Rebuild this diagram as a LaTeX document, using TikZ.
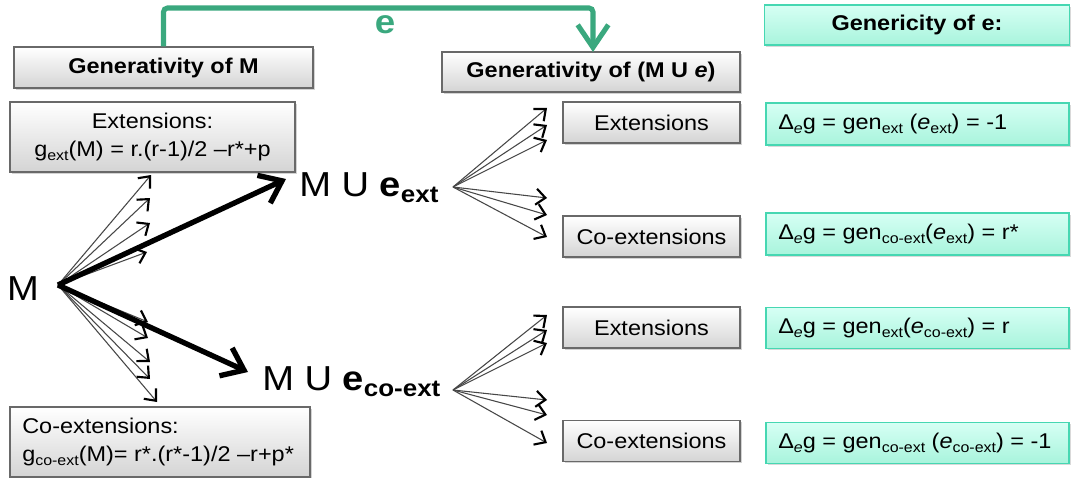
\documentclass[tikz,border=0pt]{standalone}
\usepackage{fontspec}
\setmainfont{Liberation Sans}[FakeStretch=1.1]
\usetikzlibrary{arrows.meta,shadows}
\definecolor{egreen}{RGB}{58,168,126}
\definecolor{boxgray}{RGB}{105,105,105}
\definecolor{graybot}{RGB}{212,212,212}
\definecolor{tealline}{RGB}{70,215,178}
\definecolor{tealtop}{RGB}{214,255,244}
\definecolor{tealbot}{RGB}{168,244,220}
\newcommand{\sub}[1]{\raisebox{-0.2em}{\scalebox{0.68}{#1}}}
\begin{document}
\begin{tikzpicture}[x=0.75pt,y=-0.75pt,
  bsize/.style 2 args={minimum width=#1*0.75pt, minimum height=#2*0.75pt},
  txt/.style={font=\fontsize{16}{21}\selectfont, inner sep=0pt},
  graybox/.style={draw=boxgray, line width=0.9pt, top color=white, bottom color=graybot,
    drop shadow={shadow xshift=1.3pt, shadow yshift=-1.3pt, opacity=0.35},
    inner sep=0pt, font=\fontsize{16}{21}\selectfont},
  tealbox/.style={draw=tealline, line width=1.1pt, top color=tealtop, bottom color=tealbot,
    drop shadow={shadow xshift=1.3pt, shadow yshift=-1.3pt, opacity=0.3},
    inner sep=0pt, font=\fontsize{16}{21}\selectfont},
  thinarr/.style={draw=black!72, line width=0.8pt,
    -{Straight Barb[length=7pt,width=12pt,line width=1.6pt,color=black]}},
  thickarr/.style={draw=black, line width=4pt,
    -{Straight Barb[length=15pt,width=23pt]}},
  greenarr/.style={draw=egreen, line width=3.8pt, rounded corners=3pt,
    -{Straight Barb[length=17pt,width=23pt]}},
  big/.style={font=\fontsize{26}{30}\selectfont, inner sep=0pt},
]
\useasboundingbox (0,0) rectangle (1071,478);

% left column boxes
\node[graybox, bsize={299}{41}, font=\fontsize{16}{21}\selectfont\bfseries] (A) at (163.5,67.5) {Generativity of M};
\node[graybox, bsize={285}{70}, align=center] (B) at (152.5,137)
  {Extensions:\\g\sub{ext}(M) = r.(r-1)/2 –r*+p};
\node[graybox, bsize={300}{70}] (C) at (160,442) {};
\node[txt, anchor=west, align=left] (Ct) at (22,442)
  {Co-extensions:\\g\sub{co-ext}(M)= r*.(r*-1)/2 –r+p*};

% middle column boxes
\node[graybox, bsize={298}{40}, font=\fontsize{16}{21}\selectfont\bfseries] (D) at (591,72) {Generativity of (M U \textit{e})};
\node[graybox, bsize={177}{41}] (E1) at (651.5,122.5) {Extensions};
\node[graybox, bsize={177}{41}] (E2) at (651.5,236.5) {Co-extensions};
\node[graybox, bsize={177}{41}] (E3) at (651.5,327.5) {Extensions};
\node[graybox, bsize={177}{41}] (E4) at (651.5,441) {Co-extensions};

% right column teal boxes
\node[tealbox, bsize={305}{40}, font=\fontsize{16}{21}\selectfont\bfseries] (T0) at (917,25) {Genericity of e:};
\node[tealbox, bsize={303}{42}] (T1) at (917.5,124) {};
\node[tealbox, bsize={303}{42}] (T2) at (917.5,234) {};
\node[tealbox, bsize={303}{41}] (T3) at (917.5,328) {};
\node[tealbox, bsize={303}{41}] (T4) at (917.5,443) {};
\node[txt, anchor=west] (T1t) at (778,124) {Δ\sub{\textit{e}}g = gen\sub{ext} (\textit{e}\sub{ext}) = -1};
\node[txt, anchor=west] (T2t) at (778,234) {Δ\sub{\textit{e}}g = gen\sub{co-ext}(\textit{e}\sub{ext}) = r*};
\node[txt, anchor=west] (T3t) at (778,328) {Δ\sub{\textit{e}}g = gen\sub{ext}(\textit{e}\sub{co-ext}) = r};
\node[txt, anchor=west] (T4t) at (778,443) {Δ\sub{\textit{e}}g = gen\sub{co-ext} (\textit{e}\sub{co-ext}) = -1};

% green arrow e
\coordinate (g1) at (163.5,8);
\coordinate (g2) at (593,8);
\coordinate (g3) at (593,52);
\draw[greenarr] (A.north) -- (g1) -- (g2) -- (g3);
\node[font=\fontsize{25}{28}\selectfont\bfseries, text=egreen, inner sep=0pt] (elab) at (385,25) {e};

% M and big labels
\node[big] (M) at (23,289) {M};
\node[big, anchor=base west] (Mext) at (299,196) {M U \textbf{e}\sub{\textbf{ext}}};
\node[big, anchor=base west] (Mco) at (262,390) {M U \textbf{e}\sub{\textbf{co-ext}}};

\coordinate (o) at (58,285);
\coordinate (s1) at (453,187);
\coordinate (s2) at (453,390);

% thin arrows from M
\coordinate (u1) at (151,175);
\coordinate (u2) at (150,198);
\coordinate (u3) at (150,223);
\coordinate (u4) at (147,252);
\coordinate (l1) at (148,322);
\coordinate (l2) at (148,338);
\coordinate (l3) at (150,362);
\coordinate (l4) at (150,379);
\coordinate (l5) at (157,402);
\foreach \p in {u1,u2,u3,u4,l1,l2,l3,l4,l5} \draw[thinarr] (o) -- (\p);

% thick arrows
\coordinate (t1) at (286,179);
\coordinate (t2) at (248,372);
\draw[thickarr] (o) -- (t1);
\draw[thickarr] (o) -- (t2);

% fan from e_ext
\coordinate (a1) at (547,108);
\coordinate (a2) at (547,125);
\coordinate (a3) at (547,140);
\coordinate (a4) at (547,198);
\coordinate (a5) at (547,215);
\coordinate (a6) at (547,237);
\foreach \p in {a1,a2,a3,a4,a5,a6} \draw[thinarr] (s1) -- (\p);

% fan from e_co-ext
\coordinate (b1) at (547,315);
\coordinate (b2) at (547,330);
\coordinate (b3) at (547,343);
\coordinate (b4) at (547,400);
\coordinate (b5) at (547,415);
\coordinate (b6) at (547,443);
\foreach \p in {b1,b2,b3,b4,b5,b6} \draw[thinarr] (s2) -- (\p);
\end{tikzpicture}
\end{document}
